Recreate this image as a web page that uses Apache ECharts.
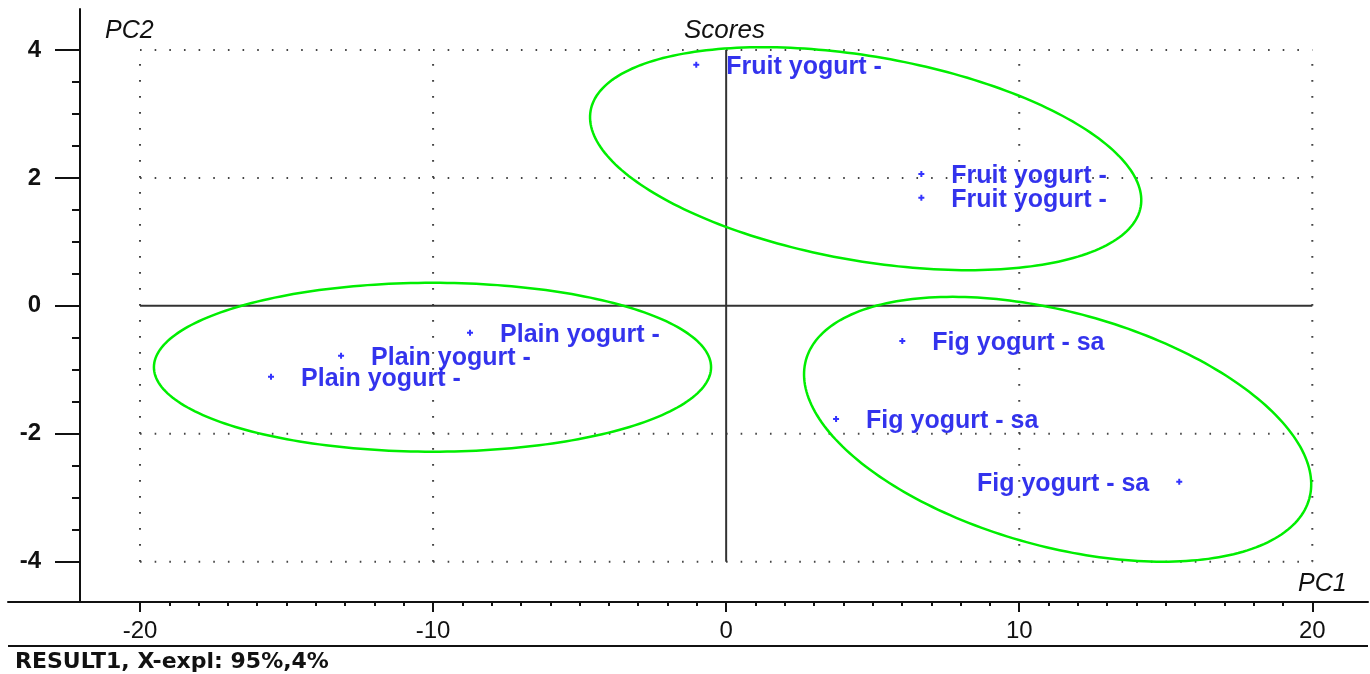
<!DOCTYPE html>
<html>
<head>
<meta charset="utf-8">
<script src="https://cdn.jsdelivr.net/npm/echarts@6/dist/echarts.min.js"></script>
<style>
  html, body { margin: 0; padding: 0; background: #ffffff; }
  #chart { width: 1370px; height: 674px; }
</style>
</head>
<body>
<div id="chart"></div>
<script>
// PCA score plot (PC1 vs PC2) of yogurt samples
const sampleNames = ['Fruit yogurt -', 'Fruit yogurt -', 'Fruit yogurt -',
                     'Plain yogurt -', 'Plain yogurt -', 'Plain yogurt -',
                     'Fig yogurt - sa', 'Fig yogurt - sa', 'Fig yogurt - sa'];
const pc1Scores = [-1.02, 6.66, 6.66, -8.74, -13.14, -15.53, 6.01, 3.75, 15.46];
const pc2Scores = [3.77, 2.06, 1.69, -0.42, -0.78, -1.11, -0.55, -1.77, -2.75];
const labelSides = ['right', 'right', 'right', 'right', 'right', 'right', 'right', 'right', 'left'];

// Group ellipses: centre and two conjugate half-axis vectors, in PC units
const ellipseCentres = [[4.76, 2.30], [-10.02, -0.96], [11.31, -1.93]];
const ellipseAxisA = [[9.385, -0.75], [9.505, 0], [8.587, -1.084]];
const ellipseAxisB = [[-0.60, -1.573], [0, 1.32], [-1.064, -1.764]];

// Axis ticks and reference lines
const xTicks = [-20, -10, 0, 10, 20];
const yTicks = [-4, -2, 0, 2, 4];
const xDotted = [-20, -10, 10, 20];
const yDotted = [-4, -2, 2, 4];
const xMinorTicks = [];
for (let v = -20; v <= 20; v += 1) xMinorTicks.push(v);
const yMinorTicks = [];
for (let v = -4; v <= 4; v += 0.5) yMinorTicks.push(v);

const X_MIN = -24.504, X_MAX = 21.90;
const Y_MIN = -4.63, Y_MAX = 4.64;
const FONT = "'Liberation Sans', Arial, sans-serif";
const AXIS_COLOR = '#111111';

const series = [];

// dotted reference grid
xDotted.forEach(function (x) {
  series.push({
    type: 'line', silent: true, symbol: 'none', z: 1, animation: false,
    data: [[x, yTicks[0]], [x, yTicks[yTicks.length - 1]]],
    lineStyle: { color: '#444444', width: 2, type: [1.6, 14.4] }
  });
});
yDotted.forEach(function (y) {
  series.push({
    type: 'line', silent: true, symbol: 'none', z: 1, animation: false,
    data: [[xTicks[0], y], [xTicks[xTicks.length - 1], y]],
    lineStyle: { color: '#444444', width: 2, type: [1.6, 13.05] }
  });
});

// solid zero lines
series.push({
  type: 'line', silent: true, symbol: 'none', z: 2, animation: false,
  data: [[0, yTicks[0]], [0, yTicks[yTicks.length - 1]]],
  lineStyle: { color: '#333333', width: 2 }
});
series.push({
  type: 'line', silent: true, symbol: 'none', z: 2, animation: false,
  data: [[xTicks[0], 0], [xTicks[xTicks.length - 1], 0]],
  lineStyle: { color: '#333333', width: 2 }
});

// group ellipses
series.push({
  type: 'custom', silent: true, z: 3, animation: false,
  data: ellipseCentres.map(function (c, i) {
    return [c[0], c[1], ellipseAxisA[i][0], ellipseAxisA[i][1], ellipseAxisB[i][0], ellipseAxisB[i][1]];
  }),
  encode: { x: 0, y: 1 },
  renderItem: function (params, api) {
    const cx = api.value(0), cy = api.value(1);
    const ax = api.value(2), ay = api.value(3);
    const bx = api.value(4), by = api.value(5);
    const pts = [];
    const n = 240;
    for (let k = 0; k < n; k++) {
      const t = 2 * Math.PI * k / n;
      const c = Math.cos(t), s = Math.sin(t);
      pts.push(api.coord([cx + ax * c + bx * s, cy + ay * c + by * s]));
    }
    return {
      type: 'polygon',
      shape: { points: pts },
      style: { fill: 'none', stroke: '#00ee00', lineWidth: 2.5 }
    };
  }
});

// sample scores
series.push({
  type: 'scatter', z: 5, animation: false,
  symbol: 'path://M2,0H4V2H6V4H4V6H2V4H0V2H2Z',
  symbolSize: 6,
  itemStyle: { color: '#0000ff' },
  label: {
    show: true, distance: 27, offset: [0, 2], formatter: '{b}',
    color: '#0000e8', fontSize: 25, fontWeight: 'bold', fontFamily: FONT
  },
  data: sampleNames.map(function (name, i) {
    return { name: name, value: [pc1Scores[i], pc2Scores[i]], label: { position: labelSides[i] } };
  })
});

const chart = echarts.init(document.getElementById('chart'), null, { renderer: 'canvas' });
chart.setOption({
  backgroundColor: '#ffffff',
  animation: false,
  title: [
    { text: 'Scores', left: 684, top: 18, padding: 0,
      textStyle: { fontFamily: FONT, fontSize: 26, fontStyle: 'italic', fontWeight: 'normal', color: '#111' } },
    { text: 'PC2', left: 105, top: 19, padding: 0,
      textStyle: { fontFamily: FONT, fontSize: 25, fontStyle: 'italic', fontWeight: 'normal', color: '#111' } },
    { text: 'PC1', left: 1298, top: 572, padding: 0,
      textStyle: { fontFamily: FONT, fontSize: 25, fontStyle: 'italic', fontWeight: 'normal', color: '#111' } },
    { text: 'RESULT1, X-expl: 95%,4%', left: 15, top: 651, padding: 0,
      textStyle: { fontFamily: "'DejaVu Sans', sans-serif", fontSize: 22, fontWeight: 'bold', color: '#111' } }
  ],
  graphic: [
    { type: 'line', shape: { x1: 8, y1: 646, x2: 1368, y2: 646 },
      style: { stroke: AXIS_COLOR, lineWidth: 2 }, silent: true }
  ],
  grid: { left: 8, right: 2, top: 9, bottom: 72, containLabel: false },
  xAxis: [
    {
      type: 'value', position: 'bottom', offset: 0, min: X_MIN, max: X_MAX,
      axisLine: { show: true, onZero: false, lineStyle: { color: AXIS_COLOR, width: 2 } },
      axisTick: { show: true, inside: false, length: 10, customValues: xTicks,
                  lineStyle: { color: AXIS_COLOR, width: 2 } },
      axisLabel: { show: true, customValues: xTicks, margin: 17, color: '#111',
                   fontFamily: FONT, fontSize: 24 },
      splitLine: { show: false }
    },
    {
      type: 'value', position: 'bottom', offset: 0, min: X_MIN, max: X_MAX,
      axisLine: { show: false, onZero: false },
      axisTick: { show: true, inside: false, length: 4, customValues: xMinorTicks,
                  lineStyle: { color: AXIS_COLOR, width: 2 } },
      axisLabel: { show: false },
      splitLine: { show: false }
    }
  ],
  yAxis: [
    {
      type: 'value', position: 'left', offset: -72, min: Y_MIN, max: Y_MAX,
      axisLine: { show: true, onZero: false, lineStyle: { color: AXIS_COLOR, width: 2 } },
      axisTick: { show: true, inside: false, length: 25, customValues: yTicks,
                  lineStyle: { color: AXIS_COLOR, width: 2 } },
      axisLabel: { show: true, customValues: yTicks, margin: 39, color: '#111',
                   fontFamily: FONT, fontSize: 24, fontWeight: 'bold', padding: [4, 0, 0, 0] },
      splitLine: { show: false }
    },
    {
      type: 'value', position: 'left', offset: -72, min: Y_MIN, max: Y_MAX,
      axisLine: { show: false, onZero: false },
      axisTick: { show: true, inside: false, length: 8, customValues: yMinorTicks,
                  lineStyle: { color: AXIS_COLOR, width: 2 } },
      axisLabel: { show: false },
      splitLine: { show: false }
    }
  ],
  series: series
});
</script>
</body>
</html>
